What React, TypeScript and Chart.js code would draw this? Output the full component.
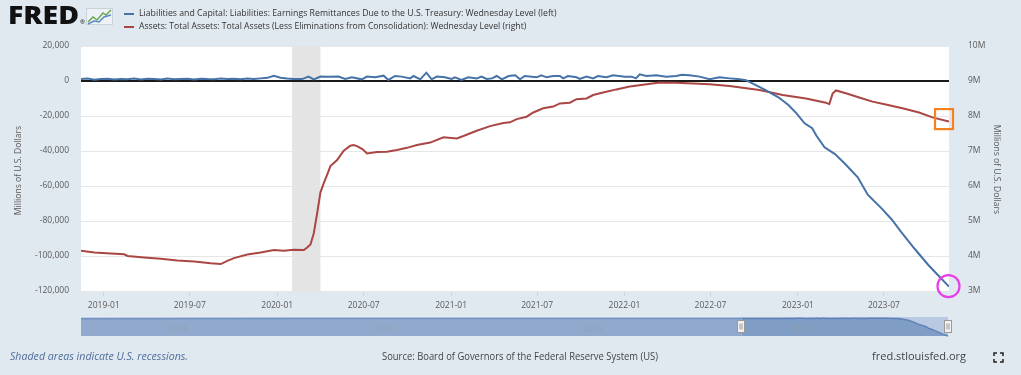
import React, { useEffect, useRef } from 'react';
import { Chart, registerables } from 'chart.js';

Chart.register(...registerables);

// ---- Data ----
// Left series: Earnings Remittances Due to the U.S. Treasury (Millions of U.S. Dollars)
const blueDates = [
  '2018-11-14', '2018-11-28', '2018-12-12', '2018-12-26', '2019-01-09', '2019-01-23', '2019-02-06', '2019-02-20',
  '2019-03-06', '2019-03-20', '2019-04-03', '2019-04-17', '2019-05-01', '2019-05-15', '2019-05-29', '2019-06-12',
  '2019-06-26', '2019-07-10', '2019-07-24', '2019-08-07', '2019-08-21', '2019-09-04', '2019-09-18', '2019-10-02',
  '2019-10-16', '2019-10-30', '2019-11-13', '2019-11-27', '2019-12-11', '2019-12-25', '2020-01-08', '2020-01-22',
  '2020-02-05', '2020-02-22', '2020-03-07', '2020-03-18', '2020-04-01', '2020-04-18', '2020-05-09', '2020-05-23',
  '2020-06-06', '2020-06-27', '2020-07-08', '2020-07-25', '2020-08-12', '2020-08-22', '2020-09-05', '2020-09-19',
  '2020-10-07', '2020-10-14', '2020-10-28', '2020-11-10', '2020-11-21', '2020-12-02', '2020-12-19', '2021-01-02',
  '2021-01-09', '2021-01-23', '2021-02-06', '2021-02-24', '2021-03-06', '2021-03-17', '2021-03-28', '2021-04-07',
  '2021-04-18', '2021-05-02', '2021-05-16', '2021-05-26', '2021-06-05', '2021-06-30', '2021-07-10', '2021-07-21',
  '2021-08-04', '2021-08-18', '2021-08-25', '2021-09-04', '2021-09-22', '2021-09-29', '2021-10-13', '2021-10-27',
  '2021-11-06', '2021-11-24', '2021-12-08', '2022-01-02', '2022-01-16', '2022-01-25', '2022-02-02', '2022-02-16',
  '2022-03-09', '2022-03-30', '2022-04-20', '2022-05-01', '2022-05-18', '2022-06-08', '2022-06-29', '2022-07-20',
  '2022-08-10', '2022-08-27', '2022-09-14', '2022-09-21', '2022-10-24', '2022-11-21', '2022-12-12', '2022-12-29',
  '2023-01-15', '2023-01-31', '2023-02-09', '2023-02-26', '2023-03-20', '2023-04-09', '2023-05-07', '2023-05-28',
  '2023-06-26', '2023-07-17', '2023-08-07', '2023-09-04', '2023-10-02', '2023-10-23', '2023-11-15',
];
const blueValues = [
  1100, 1400, 700, 1100, 1300, 800, 1200, 1000,
  1400, 900, 1300, 1100, 900, 1400, 1000, 1200,
  1300, 900, 1300, 1100, 1000, 1400, 1100, 1300,
  1000, 1400, 1200, 1500, 1800, 3000, 1900, 1400,
  1200, 1100, 2500, 950, 2500, 2450, 2500, 1150,
  2100, 950, 2500, 2100, 3050, 600, 2850, 2500,
  1500, 2850, 950, 4750, 950, 2500, 2100, 1150,
  2100, 600, 2100, 1500, 2500, 1150, 1500, 2850,
  950, 2850, 3300, 950, 2850, 2100, 3250, 2100,
  2850, 2850, 1500, 2850, 2100, 1150, 2500, 1500,
  2850, 2100, 3250, 2500, 2500, 1500, 3800, 2850,
  3250, 2500, 2850, 3600, 3250, 2500, 950, 2100,
  1500, 1100, 400, -500, -5100, -9300, -13700, -18500,
  -24200, -27000, -31300, -37900, -41800, -47000, -55000, -65000,
  -72800, -79000, -86500, -96000, -105000, -111000, -117500,
];

// Right series: Total Assets (Millions of U.S. Dollars)
const redDates = [
  '2018-11-14', '2018-12-12', '2019-01-16', '2019-02-13', '2019-02-20', '2019-03-27', '2019-05-01', '2019-06-05',
  '2019-07-10', '2019-08-14', '2019-09-04', '2019-09-18', '2019-10-02', '2019-10-30', '2019-11-27', '2019-12-25',
  '2020-01-15', '2020-02-05', '2020-02-26', '2020-03-04', '2020-03-11', '2020-03-18', '2020-03-25', '2020-04-01',
  '2020-04-08', '2020-04-15', '2020-04-22', '2020-05-06', '2020-05-20', '2020-06-03', '2020-06-10', '2020-06-17',
  '2020-06-29', '2020-07-08', '2020-07-29', '2020-08-19', '2020-09-09', '2020-09-30', '2020-10-21', '2020-11-18',
  '2020-12-16', '2021-01-13', '2021-01-27', '2021-02-24', '2021-03-24', '2021-04-21', '2021-05-05', '2021-05-19',
  '2021-06-09', '2021-06-23', '2021-07-14', '2021-08-04', '2021-08-18', '2021-09-08', '2021-09-22', '2021-10-13',
  '2021-10-27', '2021-11-17', '2021-12-15', '2022-01-12', '2022-02-09', '2022-03-16', '2022-04-20', '2022-05-25',
  '2022-06-29', '2022-08-10', '2022-10-12', '2022-11-30', '2023-01-18', '2023-03-01', '2023-03-08', '2023-03-15',
  '2023-03-22', '2023-04-12', '2023-05-10', '2023-06-07', '2023-07-05', '2023-08-09', '2023-09-13', '2023-10-11',
  '2023-11-15',
];
const redValues = [
  4150000, 4100000, 4070000, 4050000, 4000000, 3960000, 3920000, 3870000,
  3840000, 3790000, 3770000, 3860000, 3940000, 4040000, 4100000, 4170000,
  4150000, 4180000, 4170000, 4240000, 4330000, 4650000, 5220000, 5820000,
  6080000, 6320000, 6570000, 6740000, 7010000, 7150000, 7170000, 7140000,
  7050000, 6930000, 6970000, 6980000, 7030000, 7090000, 7170000, 7240000,
  7390000, 7360000, 7430000, 7580000, 7710000, 7800000, 7820000, 7910000,
  7980000, 8100000, 8220000, 8270000, 8360000, 8380000, 8480000, 8500000,
  8600000, 8670000, 8760000, 8840000, 8890000, 8960000, 8950000, 8930000,
  8910000, 8860000, 8740000, 8600000, 8500000, 8380000, 8340000, 8640000,
  8730000, 8650000, 8530000, 8410000, 8330000, 8220000, 8100000, 7960000,
  7840000,
];

// Earlier history of the left series, shown only in the navigator strip
const navHistoryDates = ['2002-12-18', '2008-01-02', '2013-01-02', '2018-11-07'];
const navHistoryValues = [300, 800, 1500, 1200];

const viewStart = '2018-11-14';
const viewEnd = '2023-11-15';
const navStart = '2002-12-18';
const recessionStart = '2020-02-01';
const recessionEnd = '2020-04-01';
const xTickDates = [
  '2019-01-01', '2019-07-01', '2020-01-01', '2020-07-01', '2021-01-01',
  '2021-07-01', '2022-01-01', '2022-07-01', '2023-01-01', '2023-07-01',
];
const navYearLabels = ['2005', '2010', '2015', '2020'];

const legendLabels = [
  'Liabilities and Capital: Liabilities: Earnings Remittances Due to the U.S. Treasury: Wednesday Level (left)',
  'Assets: Total Assets: Total Assets (Less Eliminations from Consolidation): Wednesday Level (right)',
];
const axisTitle = 'Millions of U.S. Dollars';
const footerLeft = 'Shaded areas indicate U.S. recessions.';
const footerSource = 'Source: Board of Governors of the Federal Reserve System (US)';
const footerSite = 'fred.stlouisfed.org';

// ---- Styles ----
const FONT = "'Open Sans', 'DejaVu Sans', sans-serif";
const BG = '#e1e9f0';
const BLUE = '#4572a7';
const RED = '#aa4643';
const TICK = '#595959';

function ms(d: string): number {
  return Date.parse(d + 'T00:00:00Z');
}

function setFitFont(ctx: CanvasRenderingContext2D, text: string, prefix: string, target: number) {
  ctx.font = `${prefix} 10px ${FONT}`;
  const w = ctx.measureText(text).width;
  const size = (10 * target) / w;
  ctx.font = `${prefix} ${size}px ${FONT}`;
}

function fitText(ctx: CanvasRenderingContext2D, text: string, x: number, y: number, width: number) {
  const w = ctx.measureText(text).width;
  ctx.save();
  ctx.translate(x, y);
  ctx.scale(width / w, 1);
  ctx.fillText(text, 0, 0);
  ctx.restore();
}

const decorPlugin = {
  id: 'fredDecor',
  beforeDraw(chart: any) {
    const ctx: CanvasRenderingContext2D = chart.ctx;
    const { left, top, right, bottom } = chart.chartArea;
    ctx.save();
    ctx.fillStyle = BG;
    ctx.fillRect(0, 0, chart.width, chart.height);
    ctx.fillStyle = '#ffffff';
    ctx.fillRect(left, top, right - left, bottom - top);
    const xs = chart.scales.x;
    const r0 = xs.getPixelForValue(ms(recessionStart));
    const r1 = xs.getPixelForValue(ms(recessionEnd));
    ctx.fillStyle = '#e4e4e4';
    ctx.fillRect(r0, top, r1 - r0, bottom - top);
    ctx.restore();
  },
  afterDraw(chart: any) {
    const ctx: CanvasRenderingContext2D = chart.ctx;
    const { left, top, right, bottom } = chart.chartArea;
    ctx.save();

    // ---- FRED logo ----
    ctx.fillStyle = '#111111';
    ctx.textBaseline = 'alphabetic';
    ctx.textAlign = 'left';
    ctx.font = `800 25px ${FONT}`;
    fitText(ctx, 'FRED', 8, 24, 71);
    ctx.font = `6px ${FONT}`;
    ctx.fillText('®', 80, 24);
    // small chart icon
    ctx.fillStyle = '#eef2f6';
    ctx.fillRect(86, 8, 27, 17);
    ctx.strokeStyle = '#c9d3de';
    ctx.lineWidth = 1;
    ctx.strokeRect(86.5, 8.5, 26, 16);
    ctx.lineWidth = 1.5;
    ctx.strokeStyle = '#6aa84f';
    ctx.beginPath();
    ctx.moveTo(88, 22); ctx.lineTo(93, 17); ctx.lineTo(97, 20); ctx.lineTo(103, 13); ctx.lineTo(106, 15); ctx.lineTo(111, 10);
    ctx.stroke();
    ctx.strokeStyle = '#5b8ac7';
    ctx.beginPath();
    ctx.moveTo(88, 24); ctx.lineTo(94, 21); ctx.lineTo(99, 22); ctx.lineTo(104, 17); ctx.lineTo(111, 15);
    ctx.stroke();

    // ---- Legend ----
    const legendColors = [BLUE, RED];
    const legendY = [14, 27];
    const legendW = [418, 388];
    for (let i = 0; i < legendLabels.length; i++) {
      ctx.strokeStyle = legendColors[i];
      ctx.lineWidth = 2;
      ctx.beginPath();
      ctx.moveTo(124, legendY[i]);
      ctx.lineTo(134, legendY[i]);
      ctx.stroke();
      ctx.fillStyle = '#333333';
      ctx.textBaseline = 'middle';
      setFitFont(ctx, legendLabels[i], 'normal 400', legendW[i]);
      ctx.fillText(legendLabels[i], 139, legendY[i]);
    }

    // ---- Axis titles ----
    ctx.fillStyle = TICK;
    ctx.textAlign = 'center';
    ctx.textBaseline = 'middle';
    ctx.font = `8.6px ${FONT}`;
    ctx.save();
    ctx.translate(19, (top + bottom) / 2 + 2);
    ctx.rotate(-Math.PI / 2);
    ctx.fillText(axisTitle, 0, 0);
    ctx.restore();
    ctx.save();
    ctx.translate(996, (top + bottom) / 2 + 1);
    ctx.rotate(Math.PI / 2);
    ctx.fillText(axisTitle, 0, 0);
    ctx.restore();

    // ---- Navigator ----
    const nx0 = left, nx1 = right - 1, ny0 = 317, ny1 = 336;
    const t0 = ms(navStart), t1 = ms(viewEnd);
    const nX = (t: number) => nx0 + ((t - t0) / (t1 - t0)) * (nx1 - nx0);
    const navPts: [number, number][] = [];
    navHistoryDates.forEach((d, i) => navPts.push([ms(d), navHistoryValues[i]]));
    blueDates.forEach((d, i) => navPts.push([ms(d), blueValues[i]]));
    const vals = navPts.map((p) => p[1]);
    const vmax = Math.max(...vals), vmin = Math.min(...vals);
    const nY = (v: number) => ny1 - ((v - vmin) / (vmax - vmin)) * (ny1 - ny0 - 1);
    ctx.fillStyle = '#b8c9e1';
    ctx.fillRect(nx0, ny0, nx1 - nx0, ny1 - ny0);
    ctx.beginPath();
    ctx.moveTo(nX(navPts[0][0]), ny1);
    navPts.forEach((p) => ctx.lineTo(nX(p[0]), nY(p[1])));
    ctx.lineTo(nX(navPts[navPts.length - 1][0]), ny1);
    ctx.closePath();
    ctx.fillStyle = '#809dc6';
    ctx.fill();
    ctx.beginPath();
    navPts.forEach((p, i) => (i === 0 ? ctx.moveTo(nX(p[0]), nY(p[1])) : ctx.lineTo(nX(p[0]), nY(p[1]))));
    ctx.strokeStyle = '#5f83b8';
    ctx.lineWidth = 1.5;
    ctx.stroke();
    const selX = nX(ms(viewStart));
    ctx.fillStyle = 'rgba(255,255,255,0.13)';
    ctx.fillRect(nx0, ny0 - 1, selX - nx0, ny1 - ny0 + 1);
    // year labels
    ctx.fillStyle = 'rgba(150,160,175,0.75)';
    ctx.textAlign = 'left';
    ctx.textBaseline = 'middle';
    ctx.font = `8.5px ${FONT}`;
    navYearLabels.forEach((y) => {
      ctx.fillText(y, nX(ms(y + '-01-01')) + 3, 330);
    });
    // selection outline + handles
    ctx.strokeStyle = '#b0b0b0';
    ctx.lineWidth = 1;
    ctx.beginPath();
    ctx.moveTo(Math.round(selX) + 0.5, ny0);
    ctx.lineTo(Math.round(selX) + 0.5, ny1);
    ctx.stroke();
    [selX, nx1].forEach((hx) => {
      const x = Math.round(hx) - 3.5;
      ctx.fillStyle = '#f2f2f2';
      ctx.strokeStyle = '#999999';
      ctx.fillRect(x, 320.5, 7, 12);
      ctx.strokeRect(x, 320.5, 7, 12);
      ctx.beginPath();
      ctx.moveTo(x + 2.5, 323.5); ctx.lineTo(x + 2.5, 329.5);
      ctx.moveTo(x + 4.5, 323.5); ctx.lineTo(x + 4.5, 329.5);
      ctx.stroke();
    });

    // ---- Footer ----
    ctx.textBaseline = 'middle';
    ctx.textAlign = 'left';
    ctx.fillStyle = '#4f6d9a';
    ctx.font = `italic 10px ${FONT}`;
    fitText(ctx, footerLeft, 10, 357, 178);
    ctx.fillStyle = '#444444';
    ctx.font = `10px ${FONT}`;
    fitText(ctx, footerSource, 382, 357, 276);
    fitText(ctx, footerSite, 872, 357, 94);
    // fullscreen icon
    ctx.strokeStyle = '#222222';
    ctx.lineWidth = 1.5;
    const fx = 994, fy = 353, fs = 9, fl = 3;
    ctx.beginPath();
    ctx.moveTo(fx, fy + fl); ctx.lineTo(fx, fy); ctx.lineTo(fx + fl, fy);
    ctx.moveTo(fx + fs - fl, fy); ctx.lineTo(fx + fs, fy); ctx.lineTo(fx + fs, fy + fl);
    ctx.moveTo(fx + fs, fy + fs - fl); ctx.lineTo(fx + fs, fy + fs); ctx.lineTo(fx + fs - fl, fy + fs);
    ctx.moveTo(fx + fl, fy + fs); ctx.lineTo(fx, fy + fs); ctx.lineTo(fx, fy + fs - fl);
    ctx.stroke();

    // ---- Annotations on the last points ----
    const xs = chart.scales.x, yL = chart.scales.yL, yR = chart.scales.yR;
    const lastRx = xs.getPixelForValue(ms(redDates[redDates.length - 1]));
    const lastRy = yR.getPixelForValue(redValues[redValues.length - 1]);
    ctx.strokeStyle = '#f5821f';
    ctx.lineWidth = 2.2;
    ctx.strokeRect(lastRx - 14, lastRy - 12.5, 18, 20);
    const lastBx = xs.getPixelForValue(ms(blueDates[blueDates.length - 1]));
    const lastBy = yL.getPixelForValue(blueValues[blueValues.length - 1]);
    ctx.strokeStyle = '#e83ee8';
    ctx.lineWidth = 2.2;
    ctx.beginPath();
    ctx.arc(lastBx - 0.5, lastBy - 0.5, 11, 0, Math.PI * 2);
    ctx.stroke();

    ctx.restore();
  },
};

export default function App() {
  const ref = useRef<HTMLCanvasElement>(null);

  useEffect(() => {
    const canvas = ref.current;
    if (!canvas) return;
    const chart = new Chart(canvas, {
      type: 'line',
      data: {
        datasets: [
          {
            label: legendLabels[0],
            data: blueDates.map((d, i) => ({ x: ms(d), y: blueValues[i] })),
            borderColor: BLUE,
            backgroundColor: BLUE,
            borderWidth: 2,
            pointRadius: 0,
            tension: 0,
            yAxisID: 'yL',
          },
          {
            label: legendLabels[1],
            data: redDates.map((d, i) => ({ x: ms(d), y: redValues[i] })),
            borderColor: RED,
            backgroundColor: RED,
            borderWidth: 2,
            pointRadius: 0,
            tension: 0,
            yAxisID: 'yR',
          },
        ],
      },
      options: {
        responsive: false,
        devicePixelRatio: 1,
        animation: false,
        events: [],
        layout: { padding: { top: 46, left: 0, right: 0, bottom: 0 } },
        plugins: {
          legend: { display: false },
          title: { display: false },
          tooltip: { enabled: false },
        },
        scales: {
          x: {
            type: 'linear',
            min: ms(viewStart),
            max: ms(viewEnd),
            afterBuildTicks: (s: any) => {
              s.ticks = xTickDates.map((d) => ({ value: ms(d) }));
            },
            afterFit: (s: any) => {
              s.height = 84;
            },
            ticks: {
              autoSkip: false,
              maxRotation: 0,
              padding: 4,
              color: TICK,
              font: { family: FONT, size: 8.5 },
              callback: (v: any) => new Date(Number(v)).toISOString().slice(0, 7),
            },
            grid: { drawOnChartArea: false, drawTicks: true, tickLength: 5, color: '#ccd6eb' },
            border: { display: false },
          },
          yL: {
            type: 'linear',
            position: 'left',
            min: -120000,
            max: 20000,
            afterFit: (s: any) => {
              s.width = 81;
            },
            ticks: {
              stepSize: 20000,
              padding: 12,
              color: TICK,
              font: { family: FONT, size: 8.5 },
              callback: (v: any) => Number(v).toLocaleString('en-US'),
            },
            grid: {
              drawTicks: false,
              color: (c: any) => (c.tick && c.tick.value === 0 ? '#1a1a1a' : '#e6e6e6'),
              lineWidth: (c: any) => (c.tick && c.tick.value === 0 ? 2 : 1),
            },
            border: { display: false },
          },
          yR: {
            type: 'linear',
            position: 'right',
            min: 3000000,
            max: 10000000,
            afterFit: (s: any) => {
              s.width = 72;
            },
            ticks: {
              stepSize: 1000000,
              padding: 11,
              color: TICK,
              font: { family: FONT, size: 8.5 },
              callback: (v: any) => Number(v) / 1000000 + 'M',
            },
            grid: { display: false },
            border: { display: false },
          },
        },
      },
      plugins: [decorPlugin],
    } as any);
    return () => chart.destroy();
  }, []);

  return (
    <div style={{ position: 'absolute', left: 0, top: 0, width: 1021, height: 375, background: BG }}>
      <canvas ref={ref} width={1021} height={375} style={{ display: 'block', width: 1021, height: 375 }} />
    </div>
  );
}
